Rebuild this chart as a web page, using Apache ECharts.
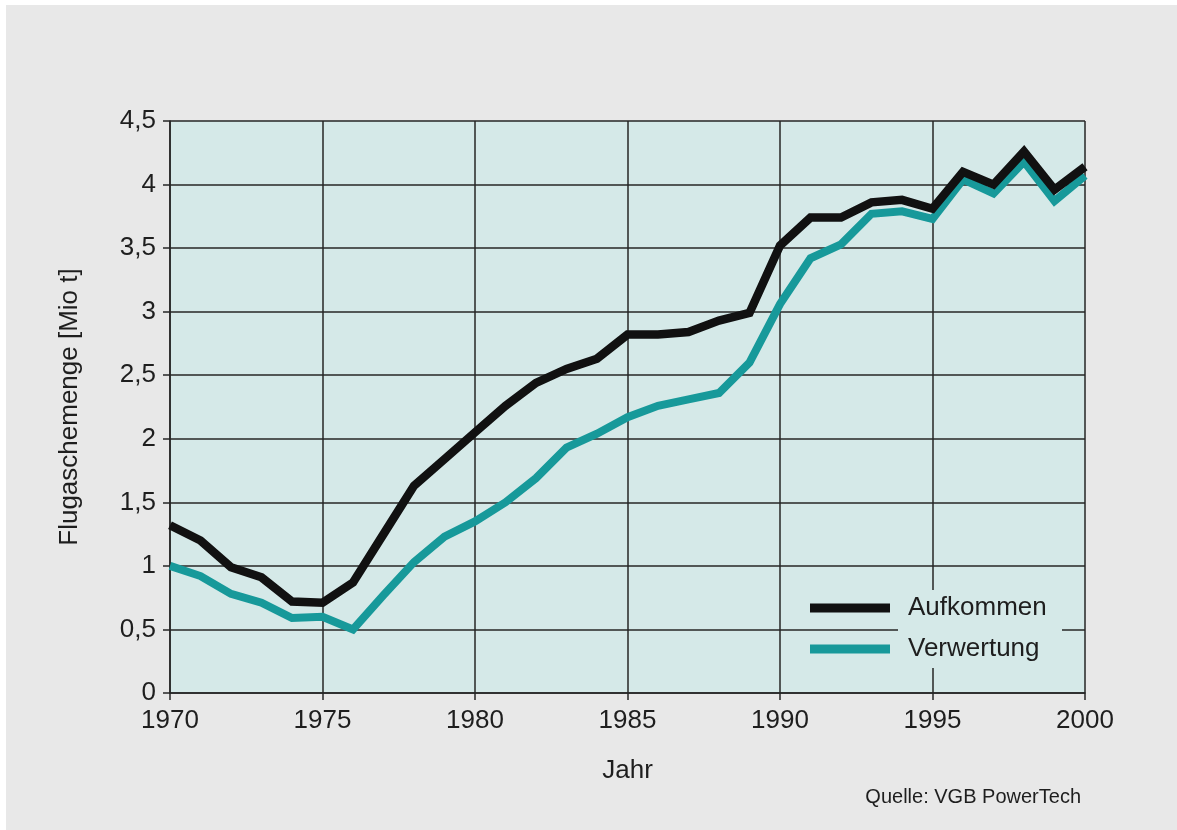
<!DOCTYPE html>
<html>
<head>
<meta charset="utf-8">
<script src="https://cdn.jsdelivr.net/npm/echarts@6/dist/echarts.min.js"></script>
<style>
html,body{margin:0;padding:0;background:#ffffff;width:1177px;height:830px;overflow:hidden;}
#c{position:absolute;left:6px;top:5px;width:1171px;height:825px;}
</style>
</head>
<body>
<div id="c"></div>
<script>
const years = [1970,1971,1972,1973,1974,1975,1976,1977,1978,1979,1980,1981,1982,1983,1984,1985,1986,1987,1988,1989,1990,1991,1992,1993,1994,1995,1996,1997,1998,1999,2000];
const aufkommen = [1.32,1.20,0.99,0.91,0.72,0.71,0.87,1.25,1.63,1.84,2.05,2.26,2.44,2.55,2.63,2.82,2.82,2.84,2.93,2.99,3.52,3.74,3.74,3.86,3.88,3.81,4.10,4.00,4.26,3.96,4.14];
const verwertung = [1.00,0.92,0.78,0.71,0.59,0.60,0.50,0.77,1.03,1.23,1.35,1.50,1.69,1.93,2.04,2.17,2.26,2.31,2.36,2.60,3.06,3.42,3.53,3.77,3.79,3.73,4.04,3.93,4.18,3.87,4.07];
const seriesNames = ['Aufkommen','Verwertung'];
const yTicks = {min:0, max:4.5, interval:0.5};
const xTicks = {min:1970, max:2000, interval:5};
const yName = 'Flugaschemenge [Mio t]';
const xName = 'Jahr';
const source = 'Quelle: VGB PowerTech';

const font = 'Liberation Sans, Arial, Helvetica, sans-serif';
const txt = '#1e1e1e';
const gridCol = '#262626';
const plotBg = '#d5e9e8';

const chart = echarts.init(document.getElementById('c'));
chart.setOption({
  backgroundColor: '#e8e8e8',
  animation: false,
  textStyle: {fontFamily: font},
  grid: {left: 164, right: 92, top: 116, bottom: 137, show: true, backgroundColor: plotBg, borderWidth: 0},
  xAxis: {
    type: 'value', min: xTicks.min, max: xTicks.max, interval: xTicks.interval,
    name: xName, nameLocation: 'middle', nameGap: 65,
    nameTextStyle: {fontSize: 26, color: txt, fontFamily: font},
    axisLine: {show: true, onZero: false, lineStyle: {color: gridCol, width: 1.5}},
    axisTick: {show: true, inside: false, length: 7, lineStyle: {color: gridCol, width: 1.5}},
    axisLabel: {fontSize: 26, color: txt, margin: 15, fontFamily: font,
      formatter: v => String(v)},
    splitLine: {show: true, lineStyle: {color: gridCol, width: 1.5}}
  },
  yAxis: {
    type: 'value', min: yTicks.min, max: yTicks.max, interval: yTicks.interval,
    name: yName, nameLocation: 'middle', nameGap: 87, nameRotate: 90,
    nameTextStyle: {fontSize: 26, color: txt, fontFamily: font},
    axisLine: {show: true, lineStyle: {color: gridCol, width: 1.5}},
    axisTick: {show: true, inside: false, length: 7, lineStyle: {color: gridCol, width: 1.5}},
    axisLabel: {fontSize: 26, color: txt, margin: 14, fontFamily: font,
      formatter: v => String(v).replace('.', ',')},
    splitLine: {show: true, lineStyle: {color: gridCol, width: 1.5}}
  },
  legend: {
    orient: 'vertical', left: 804, top: 590, padding: 0, itemGap: 15,
    itemWidth: 80, itemHeight: 9, icon: 'rect',
    textStyle: {fontSize: 26, color: txt, fontFamily: font, padding: [0,0,0,13]},
    data: seriesNames
  },
  graphic: [
    {type: 'rect', z: 1, silent: true, shape: {x: 892, y: 585, width: 164, height: 78}, style: {fill: plotBg}},
    {type: 'text', right: 1177 - 1081, top: 782, silent: true,
      style: {text: source, font: '20px ' + font, fill: txt, textAlign: 'right'}}
  ],
  series: [
    {name: seriesNames[0], type: 'line', symbol: 'none', color: '#111111',
      lineStyle: {width: 8.5, color: '#111111', join: 'miter'}, z: 3,
      data: years.map((y, i) => [y, aufkommen[i]])},
    {name: seriesNames[1], type: 'line', symbol: 'none', color: '#17999a',
      lineStyle: {width: 8, color: '#17999a', join: 'miter'}, z: 2,
      data: years.map((y, i) => [y, verwertung[i]])}
  ]
});
</script>
</body>
</html>
